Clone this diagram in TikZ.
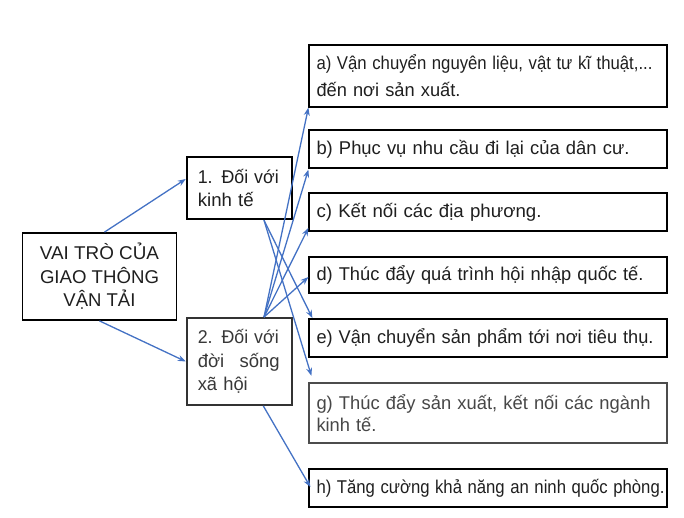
\documentclass[tikz,border=0pt]{standalone}
\usepackage{fontspec}
\setmainfont{Liberation Sans}
\usetikzlibrary{arrows.meta,calc}
\definecolor{arrowblue}{RGB}{68,114,196}
\newcommand{\fitline}[2]{\resizebox{#1pt}{\height}{#2}}
\begin{document}
\begin{tikzpicture}[x=1pt,y=-1pt,
 box/.style={draw=black, line width=1.8pt, fill=white, inner sep=0pt, font=\fontsize{18.5}{23.5}\selectfont, text=black!88},
 rbox/.style={box, minimum width=357.4pt, text width=343pt, align=left},
 link/.style={draw=arrowblue, line width=1.3pt, -{Stealth[length=8pt,width=6pt]}}
]
\useasboundingbox (0,0) rectangle (684,518);
\node[box, minimum width=154pt, minimum height=87pt, align=center] (m) at (99.5,276.5) {\fitline{119}{VAI TRÒ CỦA}\\\fitline{119}{GIAO THÔNG}\\\fitline{72}{VẬN TẢI}};
\node[box, minimum width=105.3pt, minimum height=62.6pt, text width=83pt, align=left] (b1) at (239.3,188) {\fitline{81}{1. Đối với}\\\fitline{56}{kinh tế}};
\node[box, draw=black!80, text=black!78, minimum width=105.3pt, minimum height=87pt, text width=83pt, align=left] (b2) at (239.3,361.5) {\fitline{81}{2. Đối với}\\\makebox[82pt][s]{đời\hfill sống}\\\fitline{50}{xã hội}};

\node[rbox, minimum height=61.7pt, font=\fontsize{18.5}{26.7}\selectfont] (a) at (488,75.85) {\fitline{336}{a) Vận chuyển nguyên liệu, vật tư kĩ thuật,...}\\\fitline{144}{đến nơi sản xuất.}};
\node[rbox, minimum height=37.7pt] (b) at (488,148.85) {\fitline{313}{b) Phục vụ nhu cầu đi lại của dân cư.}};
\node[rbox, minimum height=37.7pt] (c) at (488,212.15) {\fitline{225}{c) Kết nối các địa phương.}};
\node[rbox, minimum height=36.6pt] (d) at (488,275) {\fitline{327}{d) Thúc đẩy quá trình hội nhập quốc tế.}};
\node[rbox, minimum height=37.7pt] (e) at (488,337.85) {\fitline{337}{e) Vận chuyển sản phẩm tới nơi tiêu thụ.}};
\node[rbox, draw=black!70, text=black!72, minimum height=60.6pt, font=\fontsize{18.5}{22.7}\selectfont] (g) at (488,413) {\fitline{334}{g) Thúc đẩy sản xuất, kết nối các ngành}\\\fitline{60}{kinh tế.}};
\node[rbox, minimum height=37.4pt] (h) at (488,488) {\fitline{348}{h) Tăng cường khả năng an ninh quốc phòng.}};

\coordinate (s1) at ([xshift=24.7pt]b1.south);
\coordinate (s2) at ([xshift=24.7pt]b2.north);
\coordinate (s3) at ([xshift=24pt]b2.south);

\draw[link] ([xshift=5pt]m.north) -- ([yshift=9pt]b1.west);
\draw[link] (m.south) -- (b2.west);
\draw[link] (s2) -- (a.south west);
\draw[link] (s2) -- ([yshift=-1pt]b.south west);
\draw[link] (s2) -- ([yshift=4pt]c.south west);
\draw[link] (s2) -- ([yshift=-2pt]d.west);
\draw[link] (s1) -- ([xshift=4pt]e.north west);
\draw[link] (s1) -- ([xshift=3pt,yshift=6pt]g.north west);
\draw[link] (s3) -- ([xshift=2pt,yshift=1pt]h.west);
\end{tikzpicture}
\end{document}
